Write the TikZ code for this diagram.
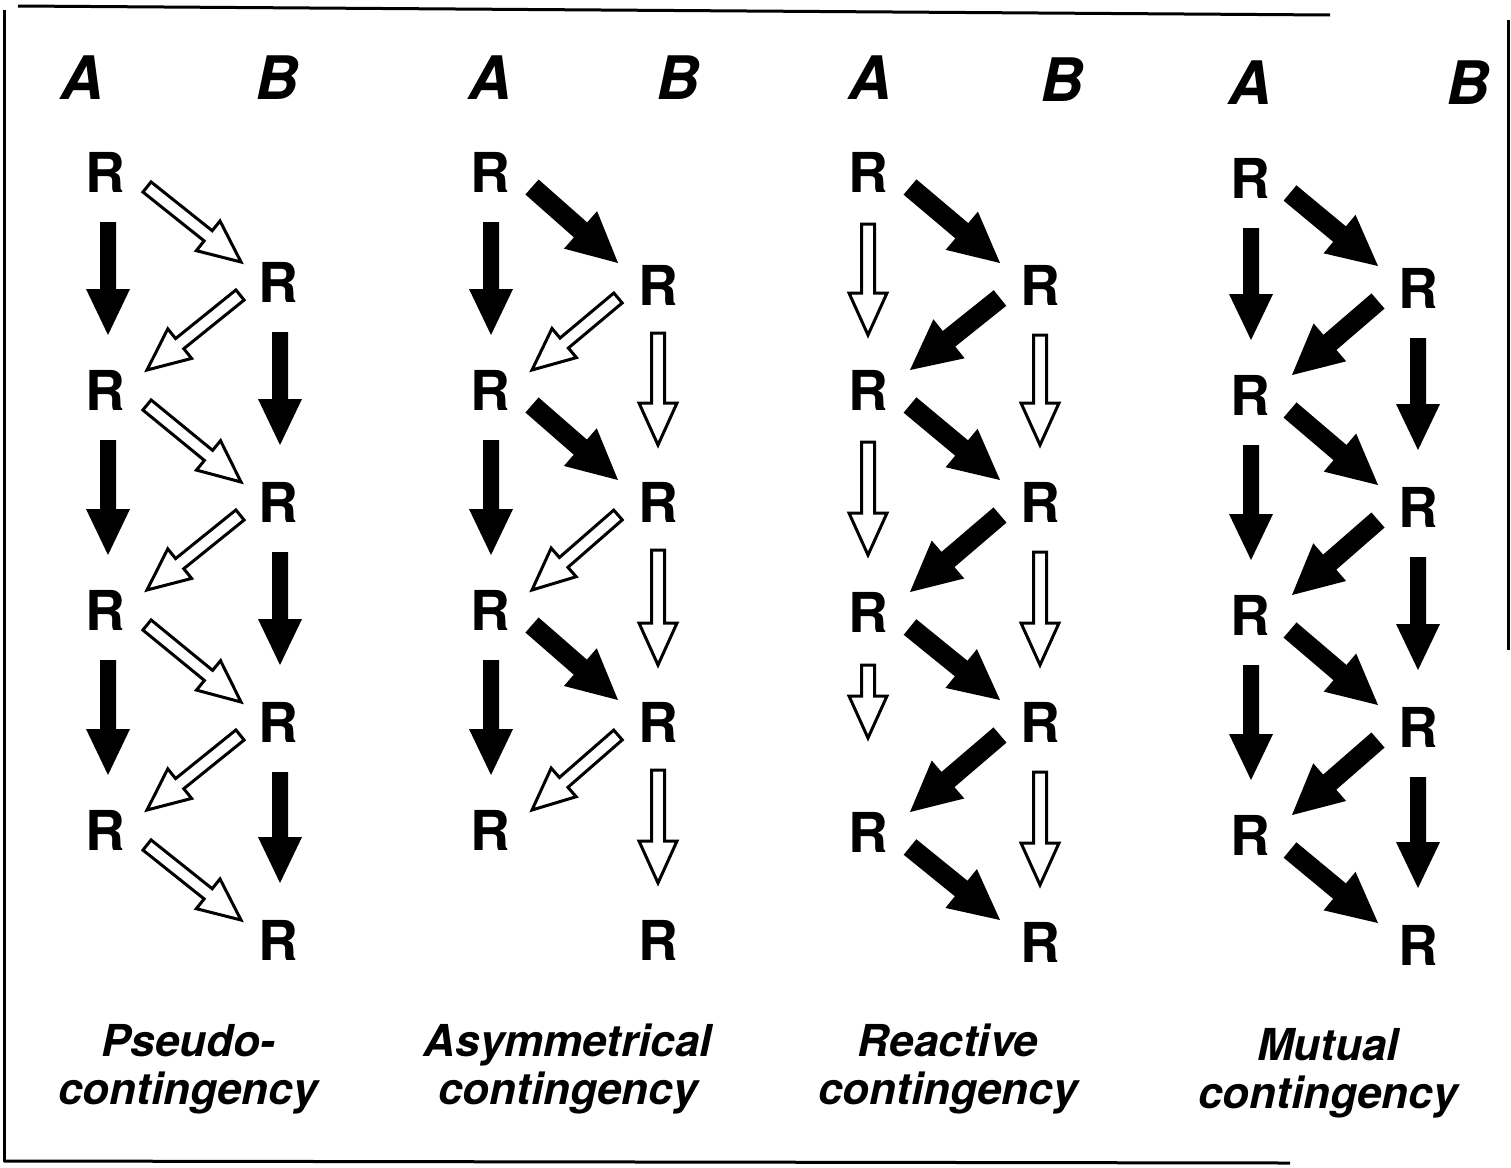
\documentclass[tikz,border=0pt]{standalone}
\usepackage{fontspec}
\setmainfont{TeX Gyre Heros}
\usetikzlibrary{calc}
% block arrow: #1 style, #2 shaft half width, #3 head half width, #4 head length, #5 start, #6 tip
\newcommand\blockarrow[6]{%
  \coordinate (bs) at (#5);
  \coordinate (be) at (#6);
  \coordinate (bh) at ($(be)!#4!(bs)$);
  \path[#1] ($(bs)!#2!90:(be)$) -- ($(bh)!#2!90:(be)$) -- ($(bh)!#3!90:(be)$) -- (be)
     -- ($(bh)!#3!-90:(be)$) -- ($(bh)!#2!-90:(be)$) -- ($(bs)!#2!-90:(be)$) -- cycle;}
\newcommand\vsolid[2]{\blockarrow{solidarrow}{8pt}{22pt}{46pt}{#1}{#2}}
\newcommand\dsolid[2]{\blockarrow{solidarrow}{10pt}{25pt}{50pt}{#1}{#2}}
\newcommand\openarr[2]{\blockarrow{openarrow}{6.5pt}{19pt}{42pt}{#1}{#2}}
\begin{document}
\begin{tikzpicture}[x=1pt,y=-1pt,
  rlab/.style={font=\bfseries\fontsize{55}{60}\selectfont, inner sep=0pt},
  ablab/.style={font=\bfseries\itshape\fontsize{60}{66}\selectfont, inner sep=0pt},
  caplab/.style={font=\bfseries\itshape\fontsize{44}{48}\selectfont, align=center, inner sep=0pt},
  solidarrow/.style={fill=black},
  openarrow/.style={draw=black, fill=white, line width=3pt, line join=miter},
  framerule/.style={line width=3pt}]
\useasboundingbox (0,0) rectangle (1511,1167);
% frame
\draw[framerule] (18,6) -- (1330,15);
\draw[framerule] (4,10) -- (4,1162);
\draw[framerule] (4,1161) -- (1290,1163);
\draw[framerule] (1508,20) -- (1508,650);

% ---------- Panel 1: Pseudo-contingency
\node[ablab] (p1A) at (82,78) {A};
\node[ablab] (p1B) at (277,78) {B};
\foreach \i/\y in {1/172,2/390,3/610,4/830} \node[rlab] (p1a\i) at (105,\y) {R};
\foreach \i/\y in {1/282,2/502,3/722,4/940} \node[rlab] (p1b\i) at (278,\y) {R};
\foreach \i/\j in {1/2,2/3,3/4}{
  \vsolid{$(p1a\i)+(3,50)$}{$(p1a\j)+(3,-55)$}
  \vsolid{$(p1b\i)+(2,50)$}{$(p1b\j)+(2,-57)$}
  \openarr{$(p1b\i)+(-38,13)$}{$(p1a\j)+(42,-20)$}
}
\foreach \i in {1,...,4}{\openarr{$(p1a\i)+(42,15)$}{$(p1b\i)+(-37,-20)$}}

% ---------- Panel 2: Asymmetrical contingency
\node[ablab] (p2A) at (490,78) {A};
\node[ablab] (p2B) at (678,78) {B};
\foreach \i/\y in {1/172,2/390,3/610,4/830} \node[rlab] (p2a\i) at (490,\y) {R};
\foreach \i/\y in {1/285,2/502,3/722,4/940} \node[rlab] (p2b\i) at (658,\y) {R};
\foreach \i/\j in {1/2,2/3,3/4}{
  \vsolid{$(p2a\i)+(1,50)$}{$(p2a\j)+(1,-55)$}
  \openarr{$(p2b\i)+(0,48)$}{$(p2b\j)+(0,-57)$}
  \dsolid{$(p2a\i)+(42,15)$}{$(p2b\i)+(-40,-22)$}
  \openarr{$(p2b\i)+(-40,13)$}{$(p2a\j)+(42,-20)$}
}

% ---------- Panel 3: Reactive contingency
\node[ablab] (p3A) at (870,78) {A};
\node[ablab] (p3B) at (1062,80) {B};
\foreach \i/\y in {1/172,2/390,3/612,4/832} \node[rlab] (p3a\i) at (868,\y) {R};
\foreach \i/\y in {1/285,2/502,3/722,4/942} \node[rlab] (p3b\i) at (1040,\y) {R};
\openarr{$(p3a1)+(0,52)$}{$(p3a2)+(0,-55)$}
\openarr{$(p3a2)+(0,52)$}{$(p3a3)+(0,-57)$}
\openarr{$(p3a3)+(0,53)$}{$(p3a4)+(0,-94)$}
\foreach \i/\j in {1/2,2/3,3/4}{
  \openarr{$(p3b\i)+(0,50)$}{$(p3b\j)+(0,-57)$}
  \dsolid{$(p3b\i)+(-40,13)$}{$(p3a\j)+(42,-20)$}
}
\foreach \i in {1,...,4}{\dsolid{$(p3a\i)+(42,15)$}{$(p3b\i)+(-40,-22)$}}

% ---------- Panel 4: Mutual contingency
\node[ablab] (p4A) at (1250,83) {A};
\node[ablab] (p4B) at (1468,83) {B};
\foreach \i/\y in {1/178,2/395,3/615,4/835} \node[rlab] (p4a\i) at (1250,\y) {R};
\foreach \i/\y in {1/288,2/507,3/727,4/945} \node[rlab] (p4b\i) at (1418,\y) {R};
\foreach \i/\j in {1/2,2/3,3/4}{
  \vsolid{$(p4a\i)+(1,50)$}{$(p4a\j)+(1,-55)$}
  \vsolid{$(p4b\i)+(0,50)$}{$(p4b\j)+(0,-57)$}
  \dsolid{$(p4b\i)+(-40,13)$}{$(p4a\j)+(42,-20)$}
}
\foreach \i in {1,...,4}{\dsolid{$(p4a\i)+(40,15)$}{$(p4b\i)+(-40,-22)$}}

% ---------- captions
\node[caplab] (c1) at (188,1069) {Pseudo-\\contingency};
\node[caplab] (c2) at (568,1069) {Asymmetrical\\contingency};
\node[caplab] (c3) at (948,1069) {Reactive\\contingency};
\node[caplab] (c4) at (1328,1073) {Mutual\\contingency};
\end{tikzpicture}
\end{document}
